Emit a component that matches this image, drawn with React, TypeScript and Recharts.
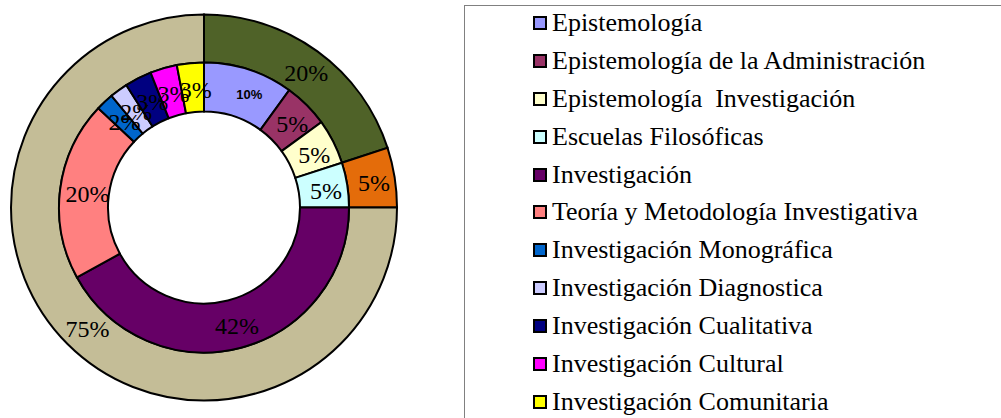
import { PieChart, Pie, Cell } from 'recharts'

const INNER_NAMES = [
  'Epistemología',
  'Epistemología de la Administración',
  'Epistemología  Investigación',
  'Escuelas Filosóficas',
  'Investigación',
  'Teoría y Metodología Investigativa',
  'Investigación Monográfica',
  'Investigación Diagnostica',
  'Investigación Cualitativa',
  'Investigación Cultural',
  'Investigación Comunitaria',
]
const INNER_VALUES = [10, 5, 5, 5, 42, 20, 2, 2, 3, 3, 3]
const INNER_COLORS = [
  '#9999ff', '#993366', '#ffffcc', '#ccffff', '#660066', '#ff8080',
  '#0066cc', '#ccccff', '#000080', '#ff00ff', '#ffff00',
]

const OUTER_NAMES = ['Grupo 1', 'Grupo 2', 'Grupo 3']
const OUTER_VALUES = [20, 5, 75]
const OUTER_COLORS = ['#4f6228', '#e46c0a', '#c4bd97']

const innerData = INNER_NAMES.map((name, i) => ({ name, value: INNER_VALUES[i] }))
const outerData = OUTER_NAMES.map((name, i) => ({ name, value: OUTER_VALUES[i] }))

const RAD = Math.PI / 180
const SERIF = '"Liberation Serif", "Times New Roman", serif'

function makeLabel(boldFirst: boolean) {
  return (props: any) => {
    const { cx, cy, midAngle, innerRadius, outerRadius, value, index } = props
    const r = (innerRadius + outerRadius) / 2
    const x = cx + r * Math.cos(-midAngle * RAD)
    const y = cy + r * Math.sin(-midAngle * RAD)
    // the 10% label is the odd one out: small bold sans
    const bold = boldFirst && index === 0
    return (
      <text
        x={bold ? x + 8 : x + 3}
        y={bold ? y + 2 : y + 2}
        textAnchor="middle"
        dominantBaseline="central"
        fill="#000"
        fontFamily={bold ? '"Liberation Sans", Arial, sans-serif' : SERIF}
        fontWeight={bold ? 'bold' : 'normal'}
        fontSize={bold ? 13 : 24}
      >
        {`${value}%`}
      </text>
    )
  }
}

export default function App() {
  return (
    <div style={{ position: 'fixed', left: 0, top: 0, width: 1001, height: 418, overflow: 'hidden', background: '#fff' }}>
      <PieChart width={420} height={418} margin={{ top: 0, right: 0, bottom: 0, left: 0 }}>
        <Pie
          data={outerData}
          dataKey="value"
          nameKey="name"
          cx={204}
          cy={207.5}
          innerRadius={145}
          outerRadius={193}
          startAngle={90}
          endAngle={-270}
          stroke="#000"
          strokeWidth={2}
          label={makeLabel(false)}
          labelLine={false}
          isAnimationActive={false}
        >
          {outerData.map((d, i) => (
            <Cell key={d.name} fill={OUTER_COLORS[i]} />
          ))}
        </Pie>
        <Pie
          data={innerData}
          dataKey="value"
          nameKey="name"
          cx={204}
          cy={207.5}
          innerRadius={96}
          outerRadius={145}
          startAngle={90}
          endAngle={-270}
          stroke="#000"
          strokeWidth={2}
          label={makeLabel(true)}
          labelLine={false}
          isAnimationActive={false}
        >
          {innerData.map((d, i) => (
            <Cell key={d.name} fill={INNER_COLORS[i]} />
          ))}
        </Pie>
      </PieChart>

      {/* legend box, runs off the right and bottom edges */}
      <div style={{ position: 'absolute', left: 464, top: 5, width: 600, height: 440, border: '1px solid #808080' }} />
      <div style={{ position: 'absolute', left: 533, top: 4 }}>
        {INNER_NAMES.map((name, i) => (
          <div key={name} style={{ display: 'flex', alignItems: 'center', height: 37.9 }}>
            <span
              style={{
                width: 14,
                height: 14,
                boxSizing: 'border-box',
                border: '2px solid #000',
                background: INNER_COLORS[i],
                marginRight: 5,
                flexShrink: 0,
              }}
            />
            <span style={{ fontFamily: SERIF, fontSize: 26, lineHeight: '37.9px', whiteSpace: 'pre', color: '#000' }}>{name}</span>
          </div>
        ))}
      </div>
    </div>
  )
}
